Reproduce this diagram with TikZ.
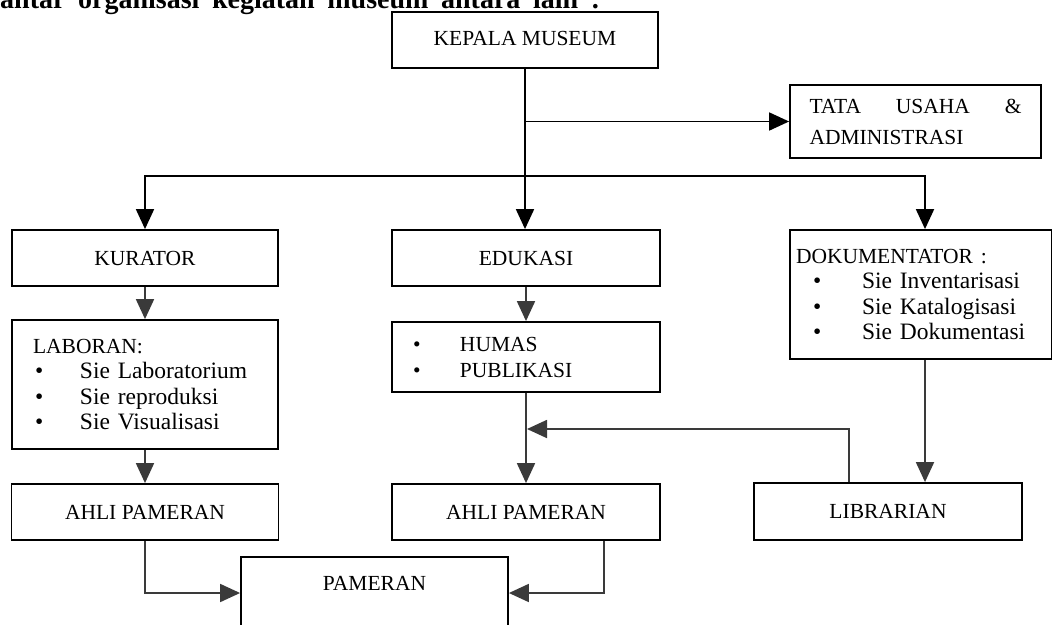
\documentclass[tikz,border=0pt]{standalone}
\usepackage{fontspec}
\setmainfont{Liberation Serif}
\usetikzlibrary{arrows.meta}
\definecolor{darkg}{HTML}{3A3A3A}
\newcommand\hd{\fontsize{21.5}{31}\selectfont}
\newcommand\hdd{\fontsize{21.5}{26}\selectfont}
\newcommand\fitem{\fontsize{23.5}{25.5}\selectfont}
\newcommand\bul[2]{\makebox[#2pt][l]{\hspace*{#1pt}\textbullet}}
\begin{document}
\begin{tikzpicture}[x=1pt,y=-1pt,
  box/.style={draw=black, line width=1.8pt, inner sep=0pt, font=\hd, align=center},
  arr/.style={line width=1.8pt, draw=black, -{Triangle[length=20pt,width=18pt]}},
  garr/.style={line width=1.8pt, draw=darkg, -{Triangle[length=20pt,width=18pt]}}]
\clip (0,0) rectangle (1052,624);
\fill[white] (0,0) rectangle (1052,624);

% cut-off heading line (cropped at the top edge, as in the reference)
\node[anchor=base west, inner sep=0pt, font=\bfseries\fontsize{28}{30}\selectfont] (top) at (0,8)
  {\makebox[600pt][s]{antar organisasi kegiatan museum antara lain :}};

% boxes
\node[box, minimum width=266, minimum height=56] (kep) at (525,40) {\raisebox{4pt}{KEPALA MUSEUM}};
\node[box, minimum width=251, minimum height=73, text width=212pt, align=left] (tata) at (915.5,121.5)
  {\makebox[212pt][l]{TATA\hfill USAHA\hfill\&}\\ADMINISTRASI};
\node[box, minimum width=266, minimum height=56] (kur) at (145,258) {KURATOR};
\node[box, minimum width=268, minimum height=56] (edu) at (526,258) {EDUKASI};
\node[box, minimum width=262, minimum height=129, text width=250pt, align=left, font=\fitem] (dok) at (921,294.5)
  {{\hd DOKUMENTATOR :}\\ \bul{17}{66}Sie Inventarisasi\\ \bul{17}{66}Sie Katalogisasi\\ \bul{17}{66}Sie Dokumentasi\\[4pt]};
\node[box, minimum width=266, minimum height=129, text width=224pt, align=left, font=\fitem] (lab) at (145,384.5)
  {{\hd LABORAN:}\\ \bul{2}{47}Sie Laboratorium\\ \bul{2}{47}Sie reproduksi\\ \bul{2}{47}Sie Visualisasi};
\node[box, minimum width=268, minimum height=70, text width=236pt, align=left, font=\hdd] (hum) at (526,357)
  {\bul{5}{52}HUMAS\\ \bul{5}{52}PUBLIKASI};
\node[box, minimum width=267, minimum height=56] (ahl1) at (145,512) {AHLI PAMERAN};
\node[box, minimum width=268, minimum height=56] (ahl2) at (526,512) {AHLI PAMERAN};
\node[box, minimum width=268, minimum height=57] (lib) at (888,511.5) {LIBRARIAN};
\node[box, minimum width=267, minimum height=72] (pam) at (374.5,593) {};
\node[font=\hd, inner sep=0pt] (pamt) at (374.5,583) {PAMERAN};

% upper connectors
\coordinate (br) at (kep.south |- 0,176);
\draw[arr] (kep.south) -- (kep.south |- edu.north);
\draw[arr] (kep.south |- tata.west) -- (tata.west);
\draw[arr] (br) -| (kur.north);
\draw[arr] (br) -| ([xshift=4pt]dok.north);

% lower connectors
\draw[garr] (kur.south) -- (lab.north);
\draw[garr] (lab.south) -- (ahl1.north);
\draw[garr] (edu.south) -- (hum.north);
\draw[garr] (hum.south) -- (ahl2.north);
\draw[garr] ([xshift=4pt]dok.south) -- ([xshift=4pt]dok.south |- lib.north);
\coordinate (fb) at ([xshift=1pt]hum.south |- 0,429);
\draw[garr] ([xshift=-39pt]lib.north) |- (fb);
\draw[garr] (ahl1.south) |- (pam.west);
\draw[garr] ([xshift=78pt]ahl2.south) |- (pam.east);
\end{tikzpicture}
\end{document}
